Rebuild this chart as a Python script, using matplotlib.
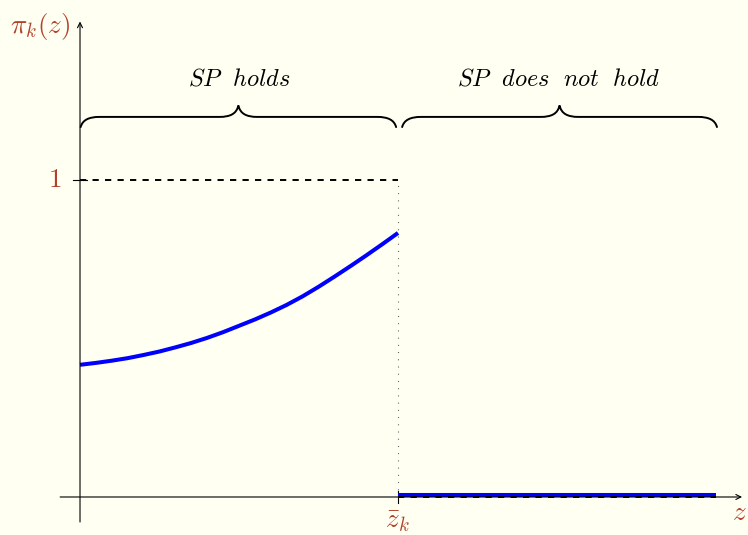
import numpy as np
import matplotlib
matplotlib.use('Agg')
import matplotlib.pyplot as plt
from matplotlib.path import Path
from matplotlib.patches import PathPatch

# values (z in units of z_bar_k)
z_left = [0.0, 0.05, 0.1, 0.15, 0.2, 0.25, 0.3, 0.35, 0.4, 0.45, 0.5,
          0.55, 0.6, 0.65, 0.7, 0.75, 0.8, 0.85, 0.9, 0.95, 1.0]
pi_left = [0.417, 0.423, 0.430, 0.438, 0.448, 0.459, 0.472, 0.486, 0.502, 0.520, 0.540,
           0.560, 0.582, 0.606, 0.633, 0.663, 0.695, 0.728, 0.762, 0.797, 0.833]
z_right = [1.0, 2.0]
pi_right = [0.007, 0.007]
z_bar = 1.0
one_level = 1.0

red = '#b5402a'
bg = '#fffff2'

plt.rcParams['mathtext.fontset'] = 'cm'
plt.rcParams['lines.scale_dashes'] = False

fig = plt.figure(figsize=(7.48, 5.35), dpi=100, facecolor=bg)
ax = fig.add_axes([0, 0, 1, 1])
ax.set_facecolor(bg)
ax.set_xlim(-0.2516, 2.1006)
ax.set_ylim(-0.1199, 1.5678)
ax.axis('off')


def brace(x0, x1, y, ax):
    # curly brace pointing up, ends hang down
    tip = y - 0.032
    top = y + 0.036
    mid = (x0 + x1) / 2
    verts = [(x0, tip), (x0 + 0.006, y - 0.01), (x0 + 0.025, y), (x0 + 0.06, y),
             (mid - 0.06, y),
             (mid - 0.025, y), (mid - 0.006, y + 0.01), (mid, top),
             (mid + 0.006, y + 0.01), (mid + 0.025, y), (mid + 0.06, y),
             (x1 - 0.06, y),
             (x1 - 0.025, y), (x1 - 0.006, y - 0.01), (x1, tip)]
    codes = [Path.MOVETO, Path.CURVE4, Path.CURVE4, Path.CURVE4,
             Path.LINETO,
             Path.CURVE4, Path.CURVE4, Path.CURVE4,
             Path.CURVE4, Path.CURVE4, Path.CURVE4,
             Path.LINETO,
             Path.CURVE4, Path.CURVE4, Path.CURVE4]
    ax.add_patch(PathPatch(Path(verts, codes), fill=False, lw=1.4,
                           color='black', capstyle='round'))


# axes with arrows
ax.annotate('', xy=(2.082, 0), xytext=(-0.0625, 0),
            arrowprops=dict(arrowstyle='->', lw=0.8, color='black',
                            shrinkA=0, shrinkB=0, mutation_scale=9))
ax.annotate('', xy=(0, 1.50), xytext=(0, -0.079),
            arrowprops=dict(arrowstyle='->', lw=0.8, color='black',
                            shrinkA=0, shrinkB=0, mutation_scale=9))

# ticks
ax.plot([-0.022, 0.022], [one_level, one_level], color='black', lw=0.8)
ax.plot([z_bar, z_bar], [-0.019, 0.019], color='black', lw=0.8)

# dashed / dotted guides
ax.plot([0, z_bar], [one_level, one_level], color='black', lw=1.4,
        dashes=(4.5, 4.5))
ax.plot([z_bar, z_bar], [0, one_level], color='#555555', lw=0.8,
        dashes=(0.7, 4.5))

# pi_k(z)
ax.plot(z_left, pi_left, color='blue', lw=2.9, solid_capstyle='butt',
        solid_joinstyle='round')
ax.plot(z_right, pi_right, color='blue', lw=2.9, solid_capstyle='butt', zorder=2)
ax.plot(z_right, [0, 0], color='black', lw=1.4, dashes=(4.5, 4.5), zorder=3)

# braces and labels
brace(0.002, 0.994, 1.199, ax)
brace(1.013, 2.003, 1.199, ax)
ax.text(0.5, 1.32, r'$\mathit{SP\ \ holds}$', ha='center', va='center', fontsize=17.5)
ax.text(1.506, 1.32, r'$\mathit{SP\ \ does\ \ not\ \ hold}$', ha='center', va='center',
        fontsize=17.5)

# axis labels
ax.text(-0.031, 1.485, r'$\pi_k(z)$', color=red, ha='right', va='center', fontsize=19.5)
ax.text(2.074, -0.05, r'$z$', color=red, ha='center', va='center', fontsize=19.5)
ax.text(z_bar, -0.075, r'$\bar{z}_k$', color=red, ha='center', va='center', fontsize=19.5)
ax.text(-0.058, one_level, r'$1$', color=red, ha='right', va='center', fontsize=19.5)

fig.savefig('out.png', dpi=100, facecolor=bg)
